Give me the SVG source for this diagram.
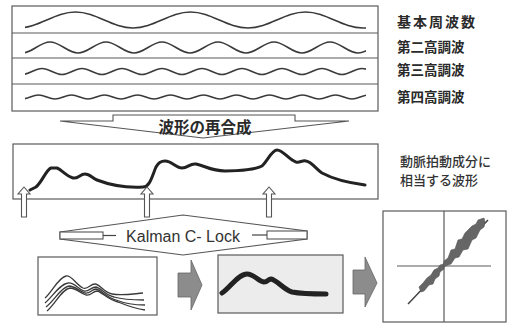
<svg xmlns="http://www.w3.org/2000/svg" width="507" height="324" viewBox="0 0 507 324">
<style>
.box{fill:#fff;stroke:#5a5a5a;stroke-width:1.2}
.div{stroke:#5a5a5a;stroke-width:1.2}
.wave{fill:none;stroke:#3a3a3a;stroke-width:1.6}
.lbl{font-family:"Noto Sans CJK JP","Noto Sans CJK SC",sans-serif;font-weight:700;fill:#2a2a2a}
.lbl2{font-family:"Noto Sans CJK JP","Noto Sans CJK SC",sans-serif;font-weight:500;fill:#333}
.outl{fill:#fff;stroke:#555;stroke-width:1.1}
.thin{fill:none;stroke:#444;stroke-width:1.2}
.garrow{fill:#8c8c8c;stroke:#666;stroke-width:0.8}
.blob{fill:#666;stroke:#555;stroke-width:0.6}
</style>
<defs>
<clipPath id="wclip"><rect x="25" y="0" width="341" height="120"/></clipPath>
<path id="uparrow" d="M0,0 L6,7 L2.5,7 L2.5,30 L-2.5,30 L-2.5,7 L-6,7 Z" class="outl"/>
</defs>
<rect width="507" height="324" fill="#fff"/>

<g id="harmonics">
<rect class="box" x="12" y="6" width="366" height="105"/>
<line class="div" x1="12" y1="33" x2="378" y2="33"/>
<line class="div" x1="12" y1="58" x2="378" y2="58"/>
<line class="div" x1="12" y1="84" x2="378" y2="84"/>
<g clip-path="url(#wclip)">
<path class="wave" d="M18,28 C38.9,28 54.6,12 75.5,12 S112.1,28 133,28 S169.6,12 190.5,12 S227.1,28 248,28 S284.6,12 305.5,12 S342.1,28 363,28 S399.6,12 420.5,12"/>
<path class="wave" d="M22,53 C32.2,53 39.8,42 50,42 S67.8,53 78,53 S95.8,42 106,42 S123.8,53 134,53 S151.8,42 162,42 S179.8,53 190,53 S207.8,42 218,42 S235.8,53 246,53 S263.8,42 274,42 S291.8,53 302,53 S319.8,42 330,42 S347.8,53 358,53 S375.8,42 386,42"/>
<path class="wave" d="M22,74.5 C29.3,74.5 34.7,68.5 42,68.5 S54.7,74.5 62,74.5 S74.7,68.5 82,68.5 S94.7,74.5 102,74.5 S114.7,68.5 122,68.5 S134.7,74.5 142,74.5 S154.7,68.5 162,68.5 S174.7,74.5 182,74.5 S194.7,68.5 202,68.5 S214.7,74.5 222,74.5 S234.7,68.5 242,68.5 S254.7,74.5 262,74.5 S274.7,68.5 282,68.5 S294.7,74.5 302,74.5 S314.7,68.5 322,68.5 S334.7,74.5 342,74.5 S354.7,68.5 362,68.5 S374.7,74.5 382,74.5"/>
<path class="wave" d="M22,99 C28,99 32.5,95 38.5,95 S49,99 55,99 S65.5,95 71.5,95 S82,99 88,99 S98.5,95 104.5,95 S115,99 121,99 S131.5,95 137.5,95 S148,99 154,99 S164.5,95 170.5,95 S181,99 187,99 S197.5,95 203.5,95 S214,99 220,99 S230.5,95 236.5,95 S247,99 253,99 S263.5,95 269.5,95 S280,99 286,99 S296.5,95 302.5,95 S313,99 319,99 S329.5,95 335.5,95 S346,99 352,99 S362.5,95 368.5,95"/>
</g>
</g>

<g id="labels">
<text class="lbl" x="397" y="27" font-size="14" letter-spacing="2">基本周波数</text>
<text class="lbl" x="397" y="52" font-size="13.5">第二高調波</text>
<text class="lbl" x="397" y="75" font-size="13.5">第三高調波</text>
<text class="lbl" x="397" y="102" font-size="13.5">第四高調波</text>
</g>

<g id="resynthesis">
<polygon class="outl" points="113,115 295,115 295,121 349,121 203,138 60,121 113,121"/>
<text class="lbl" x="205" y="133" font-size="15.5" text-anchor="middle">波形の再合成</text>
</g>

<g id="pulse-wave">
<rect class="box" x="13" y="144" width="365" height="55"/>
<path fill="none" stroke="#222" stroke-width="3" stroke-linejoin="round" stroke-linecap="round" d="M30,190 L36,187 C42,182 46,170 51,168 L57,168 C62,170 66,176 73,178 C78,179 80,174 85,174 C90,174 92,178 97,180 C110,185 125,188 143,187 C150,187 152,176 156,167 C158,163 160,161 165,161 C172,161 176,168 182,168 C188,168 190,163 196,164 C205,166 212,171 225,171 C240,171 256,169 262,166 C268,160 272,150 277,150 C283,150 289,160 296,162 C300,163 302,160 306,161 C312,162 316,169 322,173 C335,180 350,183 365,185"/>
<text class="lbl2" x="400" y="166" font-size="13">動脈拍動成分に</text>
<text class="lbl2" x="400" y="185" font-size="13">相当する波形</text>
</g>

<g id="connectors">
<use href="#uparrow" x="24" y="187"/>
<use href="#uparrow" x="147" y="187"/>
<use href="#uparrow" x="269" y="187"/>
<polygon class="garrow" points="178,273 191,273 191,260 202,285 191,310 191,297 178,297"/>
<polygon class="garrow" points="353,270 365,270 365,257 377,283 365,307 365,294 353,294"/>
</g>

<g id="kalman">
<polygon class="outl" points="60,232 183,215 307,231 307,239 183,255 60,239"/>
<rect class="outl" x="60" y="232" width="43" height="7"/>
<rect class="outl" x="267" y="231" width="40" height="8"/>
<line class="thin" x1="103" y1="235.5" x2="116" y2="235.5"/>
<line class="thin" x1="252" y1="235" x2="267" y2="235"/>
<text x="183" y="242" font-family="Liberation Sans, Arial, sans-serif" font-size="16" fill="#333" text-anchor="middle">Kalman C- Lock</text>
</g>

<g id="raw-signals">
<rect class="box" x="38" y="257" width="119" height="58"/>
<g fill="none" stroke="#3a3a3a" stroke-width="1.3">
<path d="M45,298 C52,292 58,278 66,276 C72,275 76,285 83,288 C88,290 90,284 95,284 C100,284 103,292 112,294 C122,296 132,294 143,293"/>
<path d="M45,303 C53,296 60,284 68,283 C74,282 78,289 84,291 C89,292 91,287 96,287 C101,288 105,295 114,297 C124,300 134,300 144,300"/>
<path d="M46,307 C55,300 61,287 69,286 C75,286 79,291 85,293 C90,294 92,289 96,289 C101,290 106,297 116,300 C126,304 136,305 145,305"/>
<path d="M47,311 C56,303 62,289 70,288 C76,288 80,293 86,295 C91,296 93,291 97,291 C102,292 107,299 118,302 C128,306 137,309 145,310"/>
</g>
</g>

<g id="filtered">
<rect x="218" y="255" width="125" height="58" fill="#ececec" stroke="#5a5a5a" stroke-width="1.2"/>
<path fill="none" stroke="#222" stroke-width="5" stroke-linejoin="round" stroke-linecap="round" d="M222,293 C230,288 238,274 247,274 C254,274 258,281 264,282 C268,282 268,279 271,279 C277,280 284,290 292,292 C302,294 314,294 326,294"/>
</g>

<g id="scatter">
<rect class="box" x="383" y="211" width="123" height="111"/>
<line class="div" x1="444" y1="211" x2="444" y2="322"/>
<line class="div" x1="397" y1="266" x2="491" y2="266"/>
<line x1="408" y1="304" x2="488" y2="220" stroke="#444" stroke-width="1.5"/>
<polygon class="blob" points="419,287 423,283 427,278 431,275 434,270 438,268 440,265 444,264 444,269 440,272 439,276 435,279 433,284 429,285 424,291 421,292"/>
<polygon class="blob" points="443,267 444,261 448,258 451,250 455,249 458,240 462,239 465,233 468,230 472,226 476,224 478,220 484,218 485,222 484,227 480,230 476,238 472,240 468,249 463,250 459,257 455,258 451,264 448,265"/>
</g>
</svg>
